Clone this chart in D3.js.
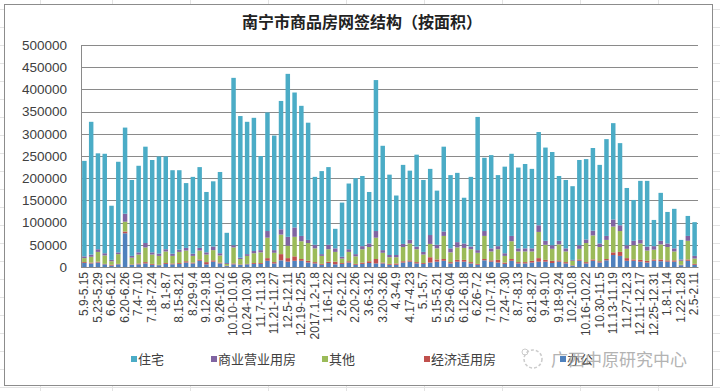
<!DOCTYPE html>
<html><head><meta charset="utf-8">
<script src="https://cdn.jsdelivr.net/npm/d3@7/dist/d3.min.js"></script>
<style>
html,body{margin:0;padding:0;background:#fff;}
svg{display:block;font-family:"Liberation Sans","Noto Sans CJK SC",sans-serif;}
</style></head>
<body><svg id="c" width="720" height="391"></svg>
<script>
const title = "南宁市商品房网签结构（按面积）";
const categories = ["5.9-5.15","5.16-5.22","5.23-5.29","5.30-6.5","6.6-6.12","6.13-6.19","6.20-6.26","6.27-7.3","7.4-7.10","7.11-7.17","7.18-7.24","7.25-7.31","8.1-8.7","8.8-8.14","8.15-8.21","8.22-8.28","8.29-9.4","9.5-9.11","9.12-9.18","9.19-9.25","9.26-10.2","10.3-10.9","10.10-10.16","10.17-10.23","10.24-10.30","10.31-11.6","11.7-11.13","11.14-11.20","11.21-11.27","11.28-12.4","12.5-12.11","12.12-12.18","12.19-12.25","12.26-1.1","2017.1.2-1.8","1.9-1.15","1.16-1.22","1.23-2.5","2.6-2.12","2.13-2.19","2.20-2.26","2.27-3.5","3.6-3.12","3.13-3.19","3.20-3.26","3.27-4.2","4.3-4.9","4.10-4.16","4.17-4.23","4.24-4.30","5.1-5.7","5.8-5.14","5.15-5.21","5.22-5.28","5.29-6.04","6.5-6.11","6.12-6.18","6.19-6.25","6.26-7.2","7.3-7.9","7.10-7.16","7.17-7.23","7.24-7.30","7.31-8.6","8.7-8.13","8.14-8.20","8.21-8.27","8.28-9.3","9.4-9.10","9.11-9.17","9.18-9.24","9.25-10.1","10.2-10.8","10.9-10.15","10.16-10.22","10.23-10.29","10.30-11.5","11.6-11.12","11.13-11.19","11.20-11.26","11.27-12.3","12.4-12.10","12.11-12.17","12.18-12.24","12.25-12.31","1.1-1.7","1.8-1.14","1.15-1.21","1.22-1.28","1.29-2.4","2.5-2.11"];
// series values (square metres)
const zhuzhai = [215000,299000,216000,224000,122000,204000,194000,171000,195000,217000,208000,219000,209000,188000,179000,146000,173000,182000,136000,147000,183000,68000,377000,319000,298000,300000,212000,267000,258000,289000,367000,304000,293000,264000,153000,187000,175000,44000,122000,148000,171000,158000,116000,340000,235000,181000,134000,178000,156000,207000,162000,149000,122000,191000,165000,156000,103000,157000,300000,165000,210000,160000,195000,185000,182000,190000,179000,210000,210000,210000,146000,154000,166000,192000,181000,186000,177000,218000,217000,185000,129000,92000,133000,148000,59000,108000,71000,89000,44000,45000,76000];
const shangye = [4000,5000,6000,5000,3000,4000,18000,4000,5000,10000,5000,5000,5000,5000,5000,6000,5000,6000,5000,8000,5000,2000,5000,3000,4000,5000,5000,15000,6000,12000,20000,21000,12000,7000,8000,4000,10000,8000,4000,6000,5000,7000,8000,15000,6000,5000,5000,7000,8000,6000,6000,20000,8000,10000,9000,12000,10000,6000,6000,11000,7000,7000,6000,12000,7000,7000,7000,15000,9000,8000,8000,7000,2000,8000,8000,11000,8000,9000,16000,13000,8000,10000,8000,9000,8000,8000,8000,7000,3000,11000,6000];
const qita = [9000,13000,22000,19000,8000,22000,22000,15000,20000,33000,21000,20000,26000,17000,25000,24000,15000,20000,17000,23000,16000,4000,36000,12000,18000,22000,24000,46000,21000,44000,28000,44000,40000,40000,31000,18000,28000,22000,10000,21000,17000,30000,32000,48000,22000,15000,14000,32000,38000,29000,19000,30000,25000,52000,22000,28000,27000,29000,25000,52000,20000,24000,15000,40000,24000,24000,21000,59000,34000,27000,36000,24000,10000,24000,43000,54000,32000,43000,58000,47000,21000,32000,37000,23000,22000,34000,30000,20000,9000,42000,12000];
const jingji = [2000,2000,2000,1000,2000,1000,4000,1000,2000,3000,2000,1000,2000,2000,2000,3000,2000,3000,5000,3000,2000,1000,2000,1000,1000,2000,2000,6000,3000,14000,8000,10000,4000,4000,3000,2000,3000,6000,2000,3000,2000,3000,4000,10000,2000,2000,3000,3000,3000,3000,2000,12000,5000,4000,3000,4000,4000,3000,2000,3000,3000,6000,3000,4000,3000,3000,4000,8000,4000,5000,3000,3000,1000,3000,3000,3000,3000,3000,6000,9000,6000,3000,4000,4000,3000,4000,3000,3000,1000,3000,2000];
const bangong = [9000,8000,10000,6000,3000,6000,76000,5000,6000,8000,5000,4000,7000,6000,7000,10000,8000,14000,6000,12000,8000,2000,6000,5000,6000,7000,7000,14000,8000,15000,12000,14000,14000,10000,8000,5000,9000,6000,7000,10000,5000,7000,9000,8000,8000,5000,5000,10000,12000,8000,7000,10000,12000,14000,8000,12000,12000,8000,5000,15000,12000,10000,7000,14000,8000,8000,10000,12000,12000,9000,12000,8000,3000,14000,8000,14000,10000,15000,27000,25000,14000,14000,12000,10000,14000,13000,12000,12000,4000,14000,5000];
const yTicks = [0,50000,100000,150000,200000,250000,300000,350000,400000,450000,500000];
const seriesNames = ["住宅","商业营业用房","其他","经济适用房","办公"];
const seriesColors = ["#4BACC6","#8064A2","#9BBB59","#C0504D","#4F81BD"];
const watermark = "广西中原研究中心";

const svg = d3.select("#c");
// spreadsheet cell lines behind the chart
const bg = svg.append("g");
for (let y = 9; y < 391; y += 18) bg.append("line").attr("x1",0).attr("x2",720).attr("y1",y+0.5).attr("y2",y+0.5).attr("stroke","#e3e3e3");
[40,112,190,268,346,424,502,580,658].forEach(x => bg.append("line").attr("x1",x+0.5).attr("x2",x+0.5).attr("y1",0).attr("y2",391).attr("stroke","#e3e3e3"));
svg.append("rect").attr("x",4.5).attr("y",4.5).attr("width",708).attr("height",381).attr("fill","#fff").attr("stroke","#8c8c8c");

const m = {l:81, r:698, t:45, b:267};
const x = d3.scaleBand().domain(categories).range([m.l, m.r]).paddingInner(0.34).paddingOuter(0.17);
const y = d3.scaleLinear().domain([0,500000]).range([m.b, m.t]);

// gridlines
svg.append("g").attr("transform",`translate(${m.l},0)`)
  .call(d3.axisLeft(y).tickValues(yTicks).tickSize(-(m.r-m.l)).tickFormat(""))
  .call(g => g.select(".domain").remove())
  .selectAll("line").attr("stroke","#8a8a8a").attr("shape-rendering","crispEdges");
svg.append("line").attr("x1",m.l+0.5).attr("x2",m.l+0.5).attr("y1",m.t).attr("y2",m.b).attr("stroke","#8a8a8a");

// y labels
svg.append("g").attr("transform",`translate(${m.l-11},0)`)
  .call(d3.axisLeft(y).tickValues(yTicks).tickSize(0).tickFormat(d3.format("d")))
  .call(g => g.select(".domain").remove())
  .selectAll("text").attr("font-size","13.5px").attr("fill","#404040").attr("font-family","'Liberation Sans',sans-serif");

// stacked data
const rows = categories.map((c,i) => ({cat:c, "办公":bangong[i], "经济适用房":jingji[i], "其他":qita[i], "商业营业用房":shangye[i], "住宅":zhuzhai[i]}));
const stackKeys = ["办公","经济适用房","其他","商业营业用房","住宅"];
const colorOf = d3.scaleOrdinal().domain(seriesNames).range(seriesColors);
const stacked = d3.stack().keys(stackKeys)(rows);
svg.append("g").selectAll("g").data(stacked).join("g").attr("fill", d => colorOf(d.key))
  .selectAll("rect").data(d => d).join("rect")
  .attr("x", d => x(d.data.cat)).attr("width", x.bandwidth())
  .attr("y", d => y(d[1])).attr("height", d => y(d[0]) - y(d[1]));

// x labels
svg.append("g").attr("transform",`translate(0,${m.b})`)
  .call(d3.axisBottom(x).tickValues(categories.filter((c,i)=>i%2===0)).tickSize(0))
  .call(g => g.select(".domain").attr("stroke","#8a8a8a"))
  .selectAll("text").attr("font-size","12px").attr("fill","#404040")
  .attr("transform","rotate(-90)").attr("text-anchor","end")
  .attr("dx","-5px").attr("dy","0.32em").attr("y",0).attr("x",0);

// title
svg.append("text").attr("x",362).attr("y",28).attr("text-anchor","middle")
  .attr("font-size","16px").attr("font-weight","bold").attr("fill","#222")
  .attr("font-family","'Noto Sans CJK SC',sans-serif").text(title);

// legend
const legX = [131,211,322,424,560];
const leg = svg.append("g").attr("font-family","'Noto Sans CJK SC',sans-serif");
seriesNames.forEach((n,i) => {
  leg.append("rect").attr("x",legX[i]).attr("y",356).attr("width",6).attr("height",6).attr("fill",seriesColors[i]);
  leg.append("text").attr("x",legX[i]+7).attr("y",364).attr("font-size","13px").attr("fill","#404040").text(n);
});

// watermark
const wm = svg.append("g").attr("opacity",0.75);
wm.append("circle").attr("cx",533).attr("cy",359).attr("r",9).attr("fill","none").attr("stroke","#bbb").attr("stroke-dasharray","3,2").attr("stroke-width",1.5);
wm.append("circle").attr("cx",525).attr("cy",352).attr("r",3).attr("fill","none").attr("stroke","#bbb");
wm.append("text").attr("x",551).attr("y",366).attr("font-size","17px").attr("fill","#9a9a9a")
  .attr("font-family","'Noto Sans CJK SC',sans-serif").text(watermark);
</script></body></html>
